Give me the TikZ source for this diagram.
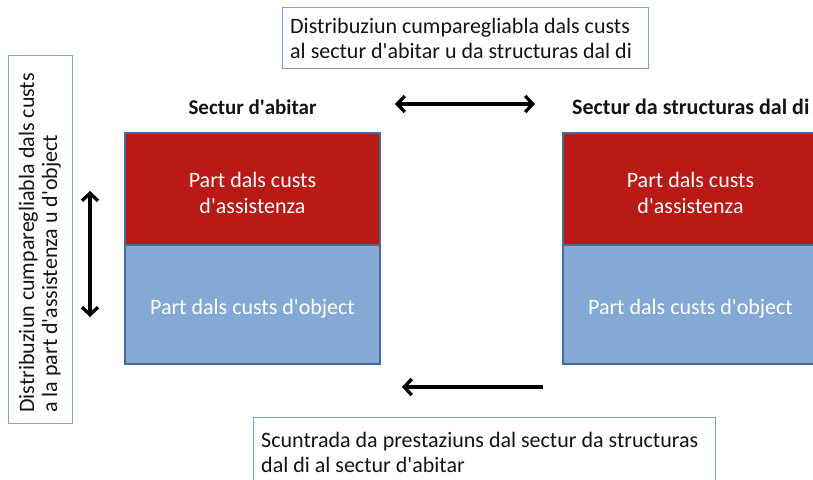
\documentclass[tikz,border=0pt]{standalone}
\usepackage{fontspec}
\setmainfont{Carlito}
\usetikzlibrary{arrows.meta}
\newcommand\apos{\textquotesingle}
\definecolor{redfill}{RGB}{185,26,22}
\definecolor{bluefill}{RGB}{131,169,212}
\definecolor{boxedge}{RGB}{74,106,150}
\definecolor{noteedge}{RGB}{130,160,205}
\definecolor{txt}{RGB}{20,20,20}
\tikzset{
  part/.style={draw=boxedge, line width=1.5pt, minimum width=255pt, inner sep=0pt},
  parttext/.style={text=white, align=center, inner sep=0pt, anchor=base, font=\fontsize{22}{26}\selectfont},
  notebox/.style={draw=noteedge, line width=0.8pt, fill=white, inner sep=0pt, anchor=north west},
  notetext/.style={text=txt, align=left, inner sep=0pt, anchor=base west, font=\fontsize{22}{25}\selectfont},
  head/.style={font=\bfseries\fontsize{21}{25}\selectfont, text=txt, anchor=base, inner sep=0pt},
  barb/.tip={Straight Barb[length=7.5pt,width=16pt,line width=3.3pt]},
  arr/.style={line width=3.3pt, barb-barb},
  arrl/.style={line width=3.3pt, barb-}
}
\begin{document}
\begin{tikzpicture}[x=1pt,y=-1pt]
\useasboundingbox (0,0) rectangle (813,479);
\clip (0,0) rectangle (813,479);
% left sector
\node[part, fill=redfill, minimum height=112pt] (r1) at (252.5,189) {};
\node[part, fill=bluefill, minimum height=119pt] (b1) at (252.5,304.5) {};
\node[parttext] (r1t) at (252.5,213) {Part dals custs\\d\apos assistenza};
\node[parttext] (b1t) at (252.5,314) {Part dals custs d\apos object};
\node[head] (h1) at (252.5,114) {Sectur d\apos abitar};
% right sector
\node[part, fill=redfill, minimum height=112pt] (r2) at (690.5,189) {};
\node[part, fill=bluefill, minimum height=119pt] (b2) at (690.5,304.5) {};
\node[parttext] (r2t) at (690.5,213) {Part dals custs\\d\apos assistenza};
\node[parttext] (b2t) at (690.5,314) {Part dals custs d\apos object};
\node[head, anchor=base west, font=\bfseries\fontsize{22}{25}\selectfont] (h2) at (572,114) {Sectur da structuras dal di};
% top note
\node[notebox, minimum width=366pt, minimum height=61pt] (t) at (282,7) {};
\node[notetext] (tt) at (290,58) {Distribuziun cumparegliabla dals custs\\al sectur d\apos abitar u da structuras dal di};
% bottom note
\node[notebox, minimum width=462pt, minimum height=80pt] (bt) at (253,417) {};
\node[notetext] (btt) at (261,472) {Scuntrada da prestaziuns dal sectur da structuras\\dal di al sectur d\apos abitar};
% left note (rotated)
\node[notebox, minimum width=64pt, minimum height=368pt] (lt) at (8,55) {};
\node[notetext, rotate=90, font=\fontsize{22}{23}\selectfont] (ltt) at (57,413) {Distribuziun cumparegliabla dals custs\\a la part d\apos assistenza u d\apos object};
% arrows
\coordinate (va) at (90,191);
\coordinate (vb) at (90,317);
\draw[arr] (va) -- (vb);
\coordinate (ha) at (395,104);
\coordinate (hb) at (535,104);
\draw[arr] (ha) -- (hb);
\coordinate (la) at (402,387);
\coordinate (lb) at (543,387);
\draw[arrl] (la) -- (lb);
\end{tikzpicture}
\end{document}
